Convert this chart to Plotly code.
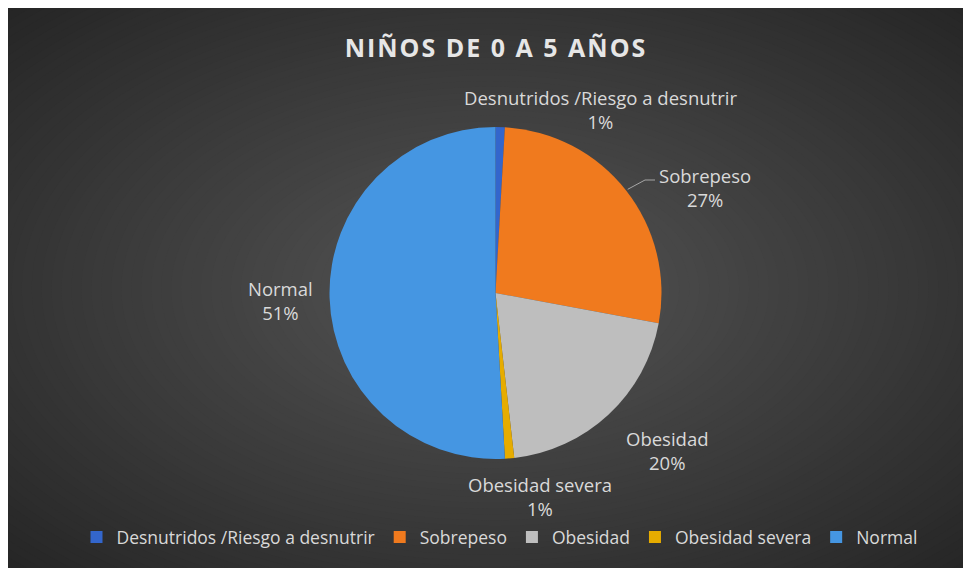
import math
import plotly.graph_objects as go

# ---- data ----
categories = ["Desnutridos /Riesgo a desnutrir", "Sobrepeso", "Obesidad", "Obesidad severa", "Normal"]
counts = [2, 60, 45, 2, 113]
title_text = "NIÑOS DE 0 A 5 AÑOS"

# ---- style ----
slice_colors = ["#3366CC", "#F07A1E", "#BEBEBE", "#E6AC00", "#4596E2"]
text_color = "#D9D9D9"
font_family = "'Open Sans', sans-serif"
OFF = 8            # page body margin
W, H = 963, 560    # figure size

def px(x):  # page pixel -> paper
    return (x - OFF) / W

def py(y):
    return 1 - (y - OFF) / H

# pie geometry (page pixels)
pcx, pcy, pr = 495.5, 293.0, 166.0

# label positions (page pixels, centre of each text block)
label_pos = [(600, 109), (705, 188), (667, 450), (540, 496), (280, 300)]

total = sum(counts)
pcts = [c / total * 100 for c in counts]

fig = go.Figure()
fig.add_trace(go.Pie(
    labels=categories,
    values=counts,
    sort=False,
    direction="clockwise",
    rotation=0,
    textinfo="none",
    marker=dict(colors=slice_colors, line=dict(width=0)),
    domain=dict(x=[px(pcx - pr), px(pcx + pr)], y=[py(pcy + pr), py(pcy - pr)]),
    showlegend=True,
))

# background: radial gradient approximated by nested ellipses
shapes = []
gcx, gcy = 490.0, 289.0
ax_, ay_ = 481.0, 279.0
steps = 70
kmax = 1.45
for i in range(steps):
    k = kmax * (1 - i / steps)
    t = min(k / 1.42, 1.0)
    v = int(round(0x55 - (0x55 - 0x26) * t))
    col = "#%02x%02x%02x" % (v, v, v)
    shapes.append(dict(type="circle", xref="paper", yref="paper", layer="below",
                       x0=px(gcx - ax_ * k), x1=px(gcx + ax_ * k),
                       y0=py(gcy + ay_ * k), y1=py(gcy - ay_ * k),
                       fillcolor=col, line=dict(width=0)))

# leader line for Sobrepeso, starting at the slice's mid-angle on the rim
cum = 0
mids = []
for c in counts:
    mids.append((cum + c / 2) / total * 360)
    cum += c
a = math.radians(mids[1])
sx, sy = pcx + (pr + 2) * math.sin(a), pcy - (pr + 2) * math.cos(a)
shapes.append(dict(type="path", xref="paper", yref="paper", layer="above",
                   path="M %f,%f L %f,%f L %f,%f" % (px(sx), py(sy), px(645), py(180), px(655), py(180)),
                   line=dict(color="#A6A6A6", width=1)))

annotations = []
for name, p, (lx, ly) in zip(categories, pcts, label_pos):
    annotations.append(dict(
        x=px(lx), y=py(ly), xref="paper", yref="paper", showarrow=False,
        text="%s<br>%d%%" % (name, round(p)), align="center",
        xanchor="center", yanchor="middle",
        font=dict(family=font_family, size=18.5, color=text_color)))

fig.update_layout(
    width=W, height=H,
    margin=dict(l=0, r=0, t=0, b=0),
    paper_bgcolor="#262626",
    plot_bgcolor="rgba(0,0,0,0)",
    title=dict(text="<b>%s</b>" % title_text, x=px(496), y=py(48), xanchor="center", yanchor="middle",
               font=dict(family="'Open Sans', sans-serif", size=25, color="#E6E6E6")),
    legend=dict(orientation="h", x=px(499.5), y=py(537), xanchor="center", yanchor="middle",
                font=dict(family=font_family, size=17.5, color=text_color),
                bgcolor="rgba(0,0,0,0)", itemclick=False),
    shapes=shapes,
    annotations=annotations,
)

post = ("document.querySelectorAll('.gtitle').forEach(function(e){"
        "e.style.letterSpacing='2px';});")
fig.write_html("out.html", post_script=post)
